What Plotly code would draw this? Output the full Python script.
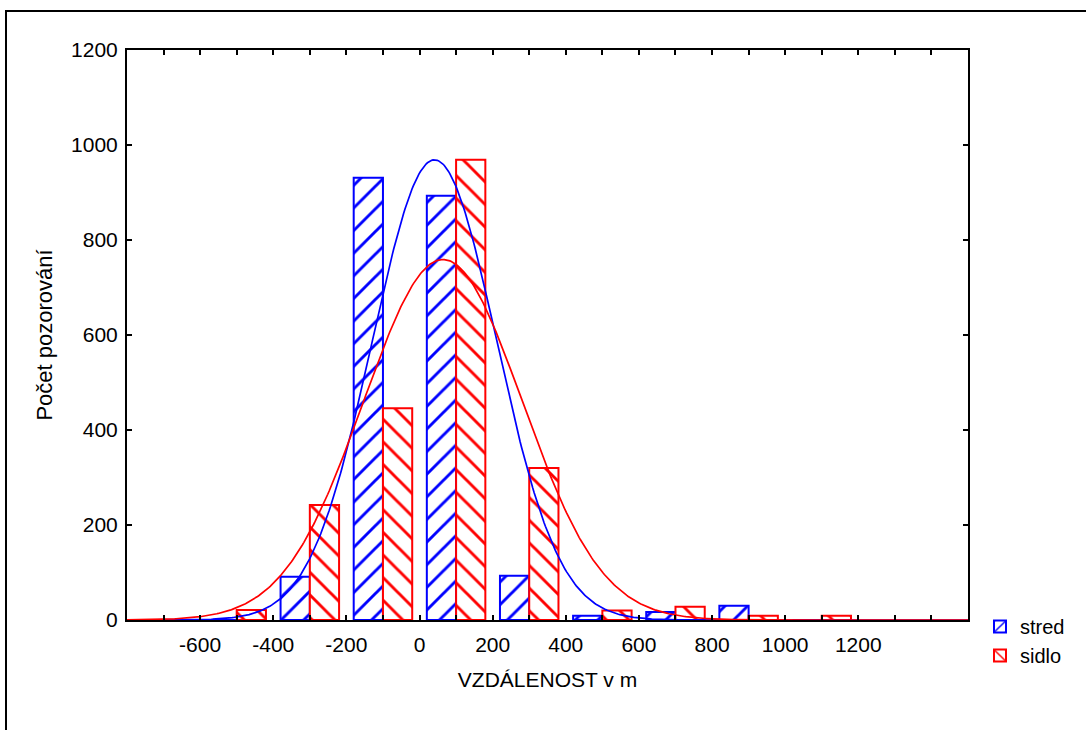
import numpy as np
import plotly.graph_objects as go

# ---- data ----
bin_centers = [-500, -300, -100, 100, 300, 500, 700, 900, 1100]
stred_counts = [0, 91, 931, 893, 93, 9, 17, 30, 0]
sidlo_counts = [21, 242, 446, 969, 320, 20, 28, 9, 9]
bin_width = 200

# fitted normal curves (mean, sd)
stred_mean, stred_sd = 41, 170
sidlo_mean, sidlo_sd = 64, 217

x_range = [-800, 1500]
y_range = [0, 1200]
x_label_vals = [-600, -400, -200, 0, 200, 400, 600, 800, 1000, 1200]
y_tick_vals = [0, 200, 400, 600, 800, 1000, 1200]

BLUE = "#0000FF"
RED = "#FF0000"
FONT = "Liberation Sans, Arial, sans-serif"

# layout geometry (px)
W, H = 1086, 730
ML, MR, MT, MB = 127, 118, 50, 110


def normal_curve(xs, n, mean, sd):
    return n * bin_width * np.exp(-((xs - mean) ** 2) / (2 * sd ** 2)) / (sd * np.sqrt(2 * np.pi))


xs = np.linspace(x_range[0], x_range[1], 600)

fig = go.Figure()
fig.add_trace(go.Bar(
    x=bin_centers, y=stred_counts, name="stred",
    marker=dict(color="white", line=dict(color=BLUE, width=2),
                pattern=dict(shape="/", fgcolor=BLUE, bgcolor="white",
                             size=16, solidity=0.18, fillmode="replace")),
))
fig.add_trace(go.Bar(
    x=bin_centers, y=sidlo_counts, name="sidlo",
    marker=dict(color="white", line=dict(color=RED, width=2),
                pattern=dict(shape="\\", fgcolor=RED, bgcolor="white",
                             size=16, solidity=0.18, fillmode="replace")),
))
fig.add_trace(go.Scatter(
    x=xs, y=normal_curve(xs, sum(stred_counts), stred_mean, stred_sd),
    mode="lines", line=dict(color=BLUE, width=1.7), showlegend=False,
))
fig.add_trace(go.Scatter(
    x=xs, y=normal_curve(xs, sum(sidlo_counts), sidlo_mean, sidlo_sd),
    mode="lines", line=dict(color=RED, width=1.7), showlegend=False,
))

x_tick_vals = list(range(x_range[0], x_range[1] + 1, 100))
x_tick_text = [str(v) if v in x_label_vals else "" for v in x_tick_vals]

axis_common = dict(
    showgrid=False, zeroline=False, showline=True, linecolor="black", linewidth=2,
    mirror="ticks", ticks="inside", ticklen=5, tickwidth=1.5, tickcolor="black",
    tickfont=dict(family=FONT, size=21, color="black"),
)

fig.update_layout(
    width=W, height=H,
    margin=dict(l=ML, r=MR, t=MT, b=MB, pad=0),
    paper_bgcolor="white", plot_bgcolor="white",
    barmode="group", bargap=0.2, bargroupgap=0,
    font=dict(family=FONT, size=20, color="black"),
    xaxis=dict(range=x_range, tickvals=x_tick_vals, ticktext=x_tick_text,
               ticklabelstandoff=5,
               title=dict(text="VZDÁLENOST v m", font=dict(family=FONT, size=21), standoff=17),
               **axis_common),
    yaxis=dict(range=y_range, tickvals=y_tick_vals, ticklabelstandoff=3,
               title=dict(text="Počet pozorování", font=dict(family=FONT, size=22), standoff=12),
               **axis_common),
    legend=dict(x=(980 - ML) / (W - ML - MR), y=(620 - 607) / (H - MT - MB),
                xanchor="left", yanchor="top", bgcolor="rgba(0,0,0,0)",
                font=dict(family=FONT, size=20, color="black"), tracegroupgap=0,
                itemwidth=30),
)

# outer figure frame
pw, ph = W - ML - MR, H - MT - MB
fig.add_shape(type="rect", xref="paper", yref="paper",
              x0=(6 - ML) / pw, x1=(1095 - ML) / pw,
              y0=(H - MB - 745) / ph, y1=(H - MB - 11) / ph,
              line=dict(color="black", width=2), fillcolor="rgba(0,0,0,0)", layer="below")

fig.write_html("out.html")
